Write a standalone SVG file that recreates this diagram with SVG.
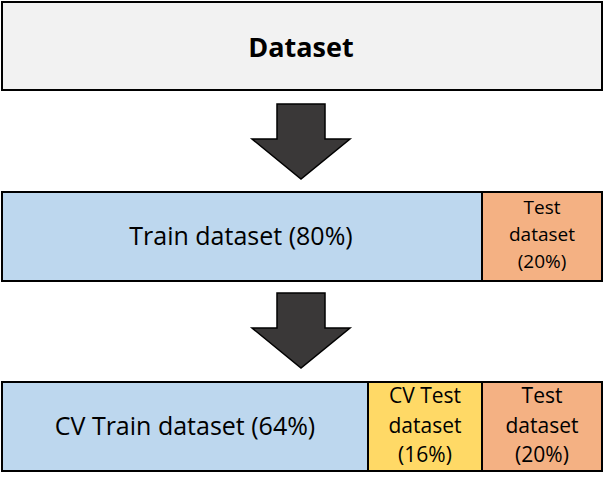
<svg xmlns="http://www.w3.org/2000/svg" width="603" height="487" viewBox="0 0 603 487">
  <style>
    .box { stroke: #000; stroke-width: 2; }
    .all { fill: #f2f2f2; }
    .train { fill: #bdd7ee; }
    .test { fill: #f4b183; }
    .cv { fill: #ffd966; }
    .arrow { fill: #3a3838; stroke: #000; stroke-width: 1.5; stroke-linejoin: miter; }
    text { font-family: "Open Sans", "Noto Sans", sans-serif; fill: #000; text-anchor: middle; }
    .big { font-size: 25px; }
    .mid { font-size: 21px; }
    .small { font-size: 19px; }
    .title { font-size: 27px; font-weight: bold; }
  </style>

  <g id="dataset">
    <rect class="box all" x="2" y="2" width="600" height="88"/>
    <text class="title" x="301" y="57">Dataset</text>
  </g>

  <g id="connectors">
    <path class="arrow" d="M277,104 H325 V139 H350 L301,179 L252,139 H277 Z"/>
    <path class="arrow" d="M277,293 H325 V328 H350 L301,368 L252,328 H277 Z"/>
  </g>

  <g id="train">
    <rect class="box train" x="2" y="192" width="480" height="89"/>
    <text class="big" x="241" y="245">Train dataset (80%)</text>
  </g>

  <g id="test1">
    <rect class="box test" x="482" y="192" width="120" height="89"/>
    <text class="small" x="542" y="214">Test</text>
    <text class="small" x="542" y="241">dataset</text>
    <text class="small" x="542" y="268">(20%)</text>
  </g>

  <g id="cv-train">
    <rect class="box train" x="2" y="382" width="366" height="89"/>
    <text class="big" x="185" y="435">CV Train dataset (64%)</text>
  </g>

  <g id="cv-test">
    <rect class="box cv" x="368" y="382" width="114" height="89"/>
    <text class="mid" x="425" y="403">CV Test</text>
    <text class="mid" x="425" y="433">dataset</text>
    <text class="mid" x="425" y="462">(16%)</text>
  </g>

  <g id="test2">
    <rect class="box test" x="482" y="382" width="120" height="89"/>
    <text class="mid" x="542" y="403">Test</text>
    <text class="mid" x="542" y="433">dataset</text>
    <text class="mid" x="542" y="462">(20%)</text>
  </g>
</svg>
